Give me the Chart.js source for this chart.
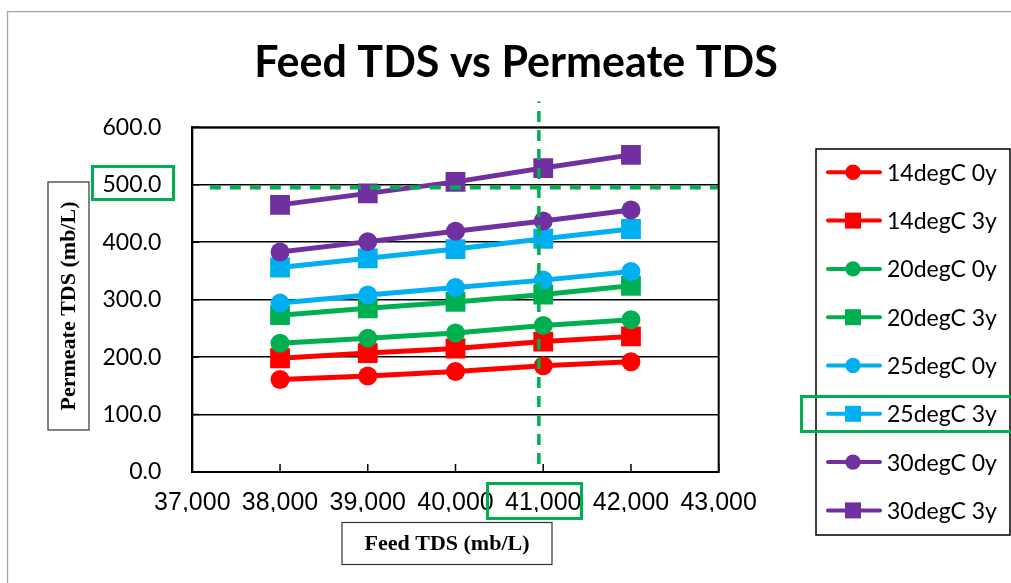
<!DOCTYPE html>
<html>
<head>
<meta charset="utf-8">
<script src="https://cdn.jsdelivr.net/npm/chart.js@4/dist/chart.umd.min.js"></script>
<style>
  body { margin: 0; background: #fff; }
  canvas { display: block; }
</style>
</head>
<body>
<canvas id="myChart" width="1011" height="583"></canvas>
<script>
// feed TDS (x) values
var feed = [38000, 39000, 40000, 41000, 42000];

// permeate TDS
var t14_0y = [161, 167, 175, 185, 192];
var t14_3y = [198, 207, 215, 227, 236];
var t20_0y = [224, 233, 242, 255, 265];
var t20_3y = [273, 285, 296, 309, 324];
var t25_0y = [294, 308, 321, 334, 349];
var t25_3y = [356, 372, 388, 406, 423];
var t30_0y = [383, 401, 419, 437, 456];
var t30_3y = [465, 485, 505, 529, 552];

var seriesNames = ['14degC 0y', '14degC 3y', '20degC 0y', '20degC 3y',
                   '25degC 0y', '25degC 3y', '30degC 0y', '30degC 3y'];
var seriesData = [t14_0y, t14_3y, t20_0y, t20_3y, t25_0y, t25_3y, t30_0y, t30_3y];
var seriesColors = ['#FF0000', '#FF0000', '#00B050', '#00B050',
                    '#00B0F0', '#00B0F0', '#7030A0', '#7030A0'];

// green dashed guide lines (data units)
var limitY = 495;
var limitYFrom = 37200;
var designX = 40950;
var designXRange = [14, 645];

var xTicks = [37000, 38000, 39000, 40000, 41000, 42000, 43000];
var yTicks = [0, 100, 200, 300, 400, 500, 600];

function pts(ys) {
  return ys.map(function (v, i) { return { x: feed[i], y: v }; });
}

var datasets = [];
for (var i = 0; i < seriesNames.length; i++) {
  var isRect = seriesNames[i].indexOf('3y') > 0;
  datasets.push({
    label: seriesNames[i],
    data: pts(seriesData[i]),
    borderColor: seriesColors[i],
    backgroundColor: seriesColors[i],
    borderWidth: 5,
    pointStyle: isRect ? 'rect' : 'circle',
    pointRadius: isRect ? 14 : 9.5,
    pointBorderWidth: 0,
    tension: 0,
    order: seriesNames.length - i,
    showInLegend: true
  });
}
datasets.push({
  label: 'limit',
  data: [{ x: limitYFrom, y: limitY }, { x: xTicks[xTicks.length - 1], y: limitY }],
  borderColor: '#00B050', borderWidth: 4, borderDash: [11, 9],
  pointRadius: 0, order: -1, clip: false
});
datasets.push({
  label: 'design',
  data: [{ x: designX, y: designXRange[0] }, { x: designX, y: designXRange[1] }],
  borderColor: '#00B050', borderWidth: 3.5, borderDash: [11, 8],
  pointRadius: 0, order: -1, clip: false
});

var extras = {
  id: 'extras',
  afterDraw: function (chart) {
    var ctx = chart.ctx;
    var a = chart.chartArea;
    var xs = chart.scales.x;
    var ys = chart.scales.y;
    ctx.save();

    // outer frame
    ctx.strokeStyle = '#A6A6A6';
    ctx.lineWidth = 1.3;
    ctx.beginPath();
    ctx.moveTo(7.5, 600); ctx.lineTo(7.5, 11.7); ctx.lineTo(1020, 11.7);
    ctx.stroke();

    // title
    ctx.fillStyle = '#000';
    ctx.font = 'bold 43px Lato';
    ctx.textAlign = 'center';
    ctx.textBaseline = 'alphabetic';
    ctx.fillText('Feed TDS vs Permeate TDS', 516, 77, 525);

    // plot border
    ctx.strokeStyle = '#000';
    ctx.lineWidth = 2;
    ctx.strokeRect(a.left, a.top, a.right - a.left, a.bottom - a.top);

    // inward tick marks
    ctx.lineWidth = 1.5;
    ctx.beginPath();
    xTicks.forEach(function (t) {
      var px = xs.getPixelForValue(t);
      ctx.moveTo(px, a.bottom); ctx.lineTo(px, a.bottom - 8);
    });
    yTicks.forEach(function (t) {
      var py = ys.getPixelForValue(t);
      ctx.moveTo(a.left, py); ctx.lineTo(a.left + 7, py);
    });
    ctx.stroke();

    // axis title boxes
    ctx.lineWidth = 1.2;
    ctx.strokeStyle = '#333';
    ctx.strokeRect(48, 182, 41, 248);
    ctx.strokeRect(342, 522.5, 210, 42);
    ctx.font = 'bold 22px "Liberation Serif"';
    ctx.textBaseline = 'middle';
    ctx.fillText('Feed TDS (mb/L)', 447, 544, 168);
    ctx.save();
    ctx.translate(69, 306);
    ctx.rotate(-Math.PI / 2);
    ctx.fillText('Permeate TDS (mb/L)', 0, 0, 219);
    ctx.restore();

    // legend
    ctx.strokeStyle = '#000';
    ctx.lineWidth = 1.5;
    ctx.strokeRect(816, 149, 194, 386);
    ctx.font = '23px Lato';
    ctx.textAlign = 'left';
    var k = 0;
    chart.data.datasets.forEach(function (ds) {
      if (!ds.showInLegend) return;
      var cy = 172.3 + k * 48.3;
      ctx.strokeStyle = ds.borderColor;
      ctx.fillStyle = ds.borderColor;
      ctx.lineWidth = 4;
      ctx.lineCap = 'round';
      ctx.beginPath();
      ctx.moveTo(828, cy); ctx.lineTo(880, cy);
      ctx.stroke();
      if (ds.pointStyle === 'rect') {
        ctx.fillRect(845, cy - 8, 16, 16);
      } else {
        ctx.beginPath();
        ctx.arc(853, cy, 7.7, 0, Math.PI * 2);
        ctx.fill();
      }
      ctx.fillStyle = '#000';
      ctx.fillText(ds.label, 887, cy + 1);
      k++;
    });

    // green highlight boxes
    ctx.strokeStyle = '#00B050';
    ctx.lineWidth = 3;
    ctx.strokeRect(92.5, 166.5, 81, 33);
    ctx.strokeRect(487.5, 483.5, 94, 35);
    ctx.strokeRect(801.5, 396.5, 220, 35);
    ctx.restore();
  }
};

var ctx = document.getElementById('myChart').getContext('2d');
var myChart = new Chart(ctx, {
  type: 'line',
  data: { datasets: datasets },
  options: {
    responsive: false,
    animation: false,
    devicePixelRatio: 1,
    layout: { padding: { left: 0, top: 127.3, right: 292.3, bottom: 71 } },
    plugins: { legend: { display: false }, tooltip: { enabled: false }, title: { display: false } },
    scales: {
      x: {
        type: 'linear', min: 37000, max: 43000,
        afterFit: function (s) { s.height = 40; },
        afterBuildTicks: function (s) { s.ticks = xTicks.map(function (v) { return { value: v }; }); },
        grid: { display: false, drawTicks: false },
        border: { display: true, color: '#000', width: 2 },
        ticks: {
          padding: 16, color: '#000',
          font: { family: 'Liberation Sans', size: 25 },
          callback: function (v) { return v.toLocaleString('en-US'); }
        }
      },
      y: {
        min: 0, max: 600,
        afterFit: function (s) { s.width = 192.3; },
        afterBuildTicks: function (s) { s.ticks = yTicks.map(function (v) { return { value: v }; }); },
        grid: { color: '#000', lineWidth: 1.5, drawTicks: false },
        border: { display: true, color: '#000', width: 2 },
        ticks: {
          padding: 31, color: '#000',
          font: { family: 'Lato', size: 23 },
          callback: function (v) { return v.toFixed(1); }
        }
      }
    }
  },
  plugins: [extras]
});
</script>
</body>
</html>
